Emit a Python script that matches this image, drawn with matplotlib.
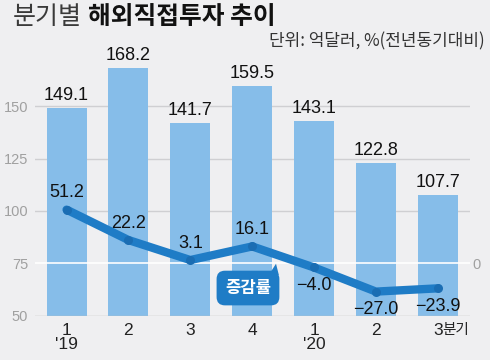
import matplotlib
matplotlib.use("Agg")
import matplotlib.pyplot as plt
from matplotlib.patches import Polygon

# ---- data ----
quarters = ["1\n'19", "2", "3", "4", "1\n'20", "2", "3"]
investment = [149.1, 168.2, 141.7, 159.5, 143.1, 122.8, 107.7]   # 억달러
growth = [51.2, 22.2, 3.1, 16.1, -4.0, -27.0, -23.9]             # % 전년동기대비
left_ticks = [50, 75, 100, 125, 150]
right_ticks = [0]

# ---- style ----
BG = "#efeff1"
BAR = "#86bde9"
LINE = "#1f7cc6"
NUM = ["Liberation Sans Narrow", "Liberation Sans", "DejaVu Sans"]
KR = ["Noto Sans CJK KR", "DejaVu Sans"]

fig = plt.figure(figsize=(4.9, 3.6), dpi=100, facecolor=BG)
ax = fig.add_axes([35/490, 44.3/360, 435/490, 262/360])
ax.set_facecolor(BG)
x = list(range(len(quarters)))

ax.set_xlim(-0.51, 6.52)
ax.set_ylim(50, 175)
for t in left_ticks:
    if t == 75:
        ax.axhline(t, color="white", lw=1.2, zorder=3)
    elif t == 50:
        ax.axhline(t, color="#bdbdbd", lw=1.0, zorder=3)
    else:
        ax.axhline(t, color="#cfcfd2", lw=1.0, zorder=0)

ax.bar(x, [v - 50 for v in investment], bottom=50, width=0.645, color=BAR, zorder=2)
for xi, v in zip(x, investment):
    ax.annotate(f"{v:.1f}", (xi, v), xytext=(0, 9), textcoords="offset points",
                ha="center", va="center", fontsize=13, family=NUM, color="#111111")

for s in ax.spines.values():
    s.set_visible(False)
ax.set_yticks(left_ticks)
ax.set_yticklabels([str(t) for t in left_ticks], family=NUM, fontsize=10.5, color="#a0a0a0")
ax.tick_params(axis="y", length=0, pad=5)
ax.set_xticks(x)
ax.set_xticklabels(quarters, family=NUM, fontsize=12.5, color="#222222", linespacing=0.95)
ax.tick_params(axis="x", length=0, pad=5)
ax.annotate("분기", (x[-1], 0), xycoords=("data", "axes fraction"), xytext=(3.5, -5),
            textcoords="offset points", ha="left", va="top", fontsize=10.5,
            family=KR, color="#222222")

# ---- right axis: growth ----
ax2 = ax.twinx()
ax2.set_ylim(-50, 200)
for s in ax2.spines.values():
    s.set_visible(False)
ax2.set_yticks(right_ticks)
ax2.set_yticklabels([str(t) for t in right_ticks], family=NUM, fontsize=10.5, color="#a0a0a0")
ax2.tick_params(axis="y", length=0, pad=2)
ax2.plot(x, growth, color=LINE, lw=6, solid_capstyle="round", solid_joinstyle="round",
         marker="o", ms=6.5, mfc="#1a6db3", mec="none", zorder=5)
for xi, g in zip(x, growth):
    dy = 12 if g > 0 else -13
    ax2.annotate(f"{g:.1f}".replace("-", "\u2212"), (xi, g), xytext=(0, dy),
                 textcoords="offset points", ha="center", va="center",
                 fontsize=13, family=NUM, color="#111111", zorder=6)

# ---- legend callout ----
bx, by = 2.932, 63.2
ax.text(bx, by, "증감률", ha="center", va="center", fontsize=12, fontweight="bold",
        family=KR, color="white", zorder=7,
        bbox=dict(boxstyle="round,pad=0.5,rounding_size=0.5", fc=LINE, ec="none"))
tail = Polygon([(3.27, 69.5), (3.385, 74.8), (3.43, 69.5)], closed=True,
               fc=LINE, ec="none", zorder=7)
ax.add_patch(tail)

# ---- titles ----
fig.canvas.draw()
r = fig.canvas.get_renderer()
t1 = fig.text(13/490, 1 - 17/360, "분기별", ha="left", va="center", fontsize=18,
              family=KR, color="#3a3a3a")
bb = t1.get_window_extent(renderer=r)
fig.text((bb.x1 + 6) / fig.bbox.width, 1 - 17/360, "해외직접투자 추이", ha="left",
         va="center", fontsize=17.8, fontweight="bold", family=KR, color="#111111")
fig.text(485/490, 1 - 41/360, "단위: 억달러, %(전년동기대비)", ha="right", va="center",
         fontsize=12.2, family=KR, color="#333333")

fig.savefig("out.png", dpi=100, facecolor=BG)
